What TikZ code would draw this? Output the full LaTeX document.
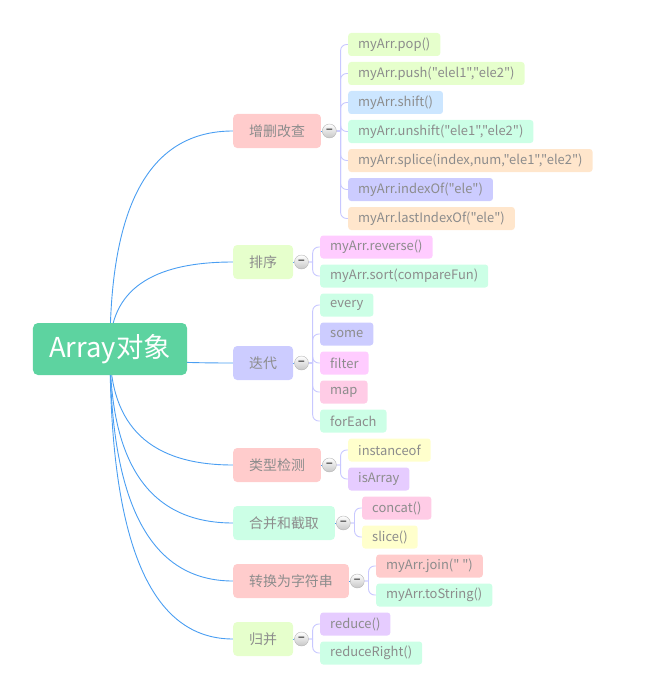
\documentclass[tikz,border=0pt]{standalone}
\usepackage{fontspec}
\newfontfamily\cjk{Noto Sans CJK SC}
\usepackage{tikz}
\usetikzlibrary{calc,backgrounds}
\definecolor{cRoot}{HTML}{5DD3A0}
\definecolor{cText}{HTML}{8C8C8C}
\definecolor{cTrunk}{HTML}{4A9EF2}
\definecolor{cTwig}{HTML}{C8C8FF}
\definecolor{cFold}{HTML}{B4B4B4}
\definecolor{cPink}{HTML}{FFCCCC}
\definecolor{cLime}{HTML}{E6FFCC}
\definecolor{cSky}{HTML}{CCE6FF}
\definecolor{cMint}{HTML}{CCFFE6}
\definecolor{cPeach}{HTML}{FFE6CC}
\definecolor{cPeri}{HTML}{CCCCFF}
\definecolor{cMagenta}{HTML}{FFCCFF}
\definecolor{cRose}{HTML}{FFCCE6}
\definecolor{cLemon}{HTML}{FFFFCC}
\definecolor{cLilac}{HTML}{E6CCFF}

\begin{document}
\begin{tikzpicture}[x=1bp, y=-1bp,
  root/.style={fill=cRoot, rounded corners=5bp, text=white, minimum width=154bp, minimum height=52bp, font=\cjk\fontsize{27.5}{32}\selectfont},
  topic/.style={anchor=west, rounded corners=4bp, text=cText, minimum height=34bp, inner xsep=16bp, font=\cjk\fontsize{14}{16}\selectfont},
  leaf/.style={anchor=west, rounded corners=3bp, text=cText, minimum height=23bp, inner xsep=10bp, font=\cjk\fontsize{13}{15}\selectfont},
  fold/.style={circle, draw=cFold, inner sep=0pt, minimum size=14bp, top color=white, bottom color=black!22, font=\cjk\bfseries\fontsize{13}{13}\selectfont, text=black!60},
  trunk/.style={draw=cTrunk, line width=0.9bp},
  twig/.style={draw=cTwig, line width=0.9bp}]

\useasboundingbox (0,0) rectangle (649,698);

% 中心主题
\node[root] (root) at (110,349) {Array对象};

% 分支主题
\node[topic, fill=cPink]  (t1) at (233,131) {增删改查};
\node[topic, fill=cLime]  (t2) at (233,262) {排序};
\node[topic, fill=cPeri]  (t3) at (233,363) {迭代};
\node[topic, fill=cPink]  (t4) at (233,465) {类型检测};
\node[topic, fill=cMint]  (t5) at (233,523) {合并和截取};
\node[topic, fill=cPink]  (t6) at (233,581) {转换为字符串};
\node[topic, fill=cLime]  (t7) at (233,639) {归并};

% 折叠按钮
\node[fold, anchor=west] (f1) at ([xshift=1bp]t1.east) {–};
\node[fold, anchor=west] (f2) at ([xshift=1bp]t2.east) {–};
\node[fold, anchor=west] (f3) at ([xshift=1bp]t3.east) {–};
\node[fold, anchor=west] (f4) at ([xshift=1bp]t4.east) {–};
\node[fold, anchor=west] (f5) at ([xshift=1bp]t5.east) {–};
\node[fold, anchor=west] (f6) at ([xshift=1bp]t6.east) {–};
\node[fold, anchor=west] (f7) at ([xshift=1bp]t7.east) {–};

% 增删改查
\node[leaf, fill=cLime]  (a1) at (348,44.5)  {myArr.pop()};
\node[leaf, fill=cLime]  (a2) at (348,73.5)  {myArr.push("elel1","ele2")};
\node[leaf, fill=cSky]   (a3) at (348,102.5) {myArr.shift()};
\node[leaf, fill=cMint]  (a4) at (348,131.5) {myArr.unshift("ele1","ele2")};
\node[leaf, fill=cPeach] (a5) at (348,160.5) {myArr.splice(index,num,"ele1","ele2")};
\node[leaf, fill=cPeri]  (a6) at (348,189.5) {myArr.indexOf("ele")};
\node[leaf, fill=cPeach] (a7) at (348,218.5) {myArr.lastIndexOf("ele")};

% 排序
\node[leaf, fill=cMagenta] (b1) at (320,247) {myArr.reverse()};
\node[leaf, fill=cMint]    (b2) at (320,276) {myArr.sort(compareFun)};

% 迭代
\node[leaf, fill=cMint]    (c1) at (320,305) {every};
\node[leaf, fill=cPeri]    (c2) at (320,334) {some};
\node[leaf, fill=cMagenta] (c3) at (320,363) {filter};
\node[leaf, fill=cRose]    (c4) at (320,392) {map};
\node[leaf, fill=cMint]    (c5) at (320,421) {forEach};

% 类型检测
\node[leaf, fill=cLemon] (d1) at (348,450) {instanceof};
\node[leaf, fill=cLilac] (d2) at (348,479) {isArray};

% 合并和截取
\node[leaf, fill=cRose]  (e1) at (362,508) {concat()};
\node[leaf, fill=cLemon] (e2) at (362,537) {slice()};

% 转换为字符串
\node[leaf, fill=cPink] (g1) at (376,566) {myArr.join(" ")};
\node[leaf, fill=cMint] (g2) at (376,595) {myArr.toString()};

% 归并
\node[leaf, fill=cLilac] (h1) at (320,624) {reduce()};
\node[leaf, fill=cMint]  (h2) at (320,653) {reduceRight()};

\begin{scope}[on background layer]
% 中心到分支
\foreach \t in {t1,t2,t3,t4,t5,t6,t7}
  \draw[trunk] (root.center) .. controls ($(root.center)!0.67!(root.center |- \t.west)$)
    and ($(\t.west)!0.67!(root.center |- \t.west)$) .. (\t.west);
\foreach \t/\f in {t1/f1,t2/f2,t3/f3,t4/f4,t5/f5,t6/f6,t7/f7}
  \draw[trunk] (\t.east) -- (\f.west);

% 分支到子主题
\foreach \f/\l in {f1/a1,f1/a2,f1/a3,f1/a4,f1/a5,f1/a6,f1/a7,f2/b1,f2/b2,
    f3/c1,f3/c2,f3/c3,f3/c4,f3/c5,f4/d1,f4/d2,f5/e1,f5/e2,f6/g1,f6/g2,f7/h1,f7/h2}
  \draw[twig] (\f.east) -- ++(4,0) [rounded corners=6bp] |- (\l.west);
\end{scope}

\end{tikzpicture}
\end{document}
